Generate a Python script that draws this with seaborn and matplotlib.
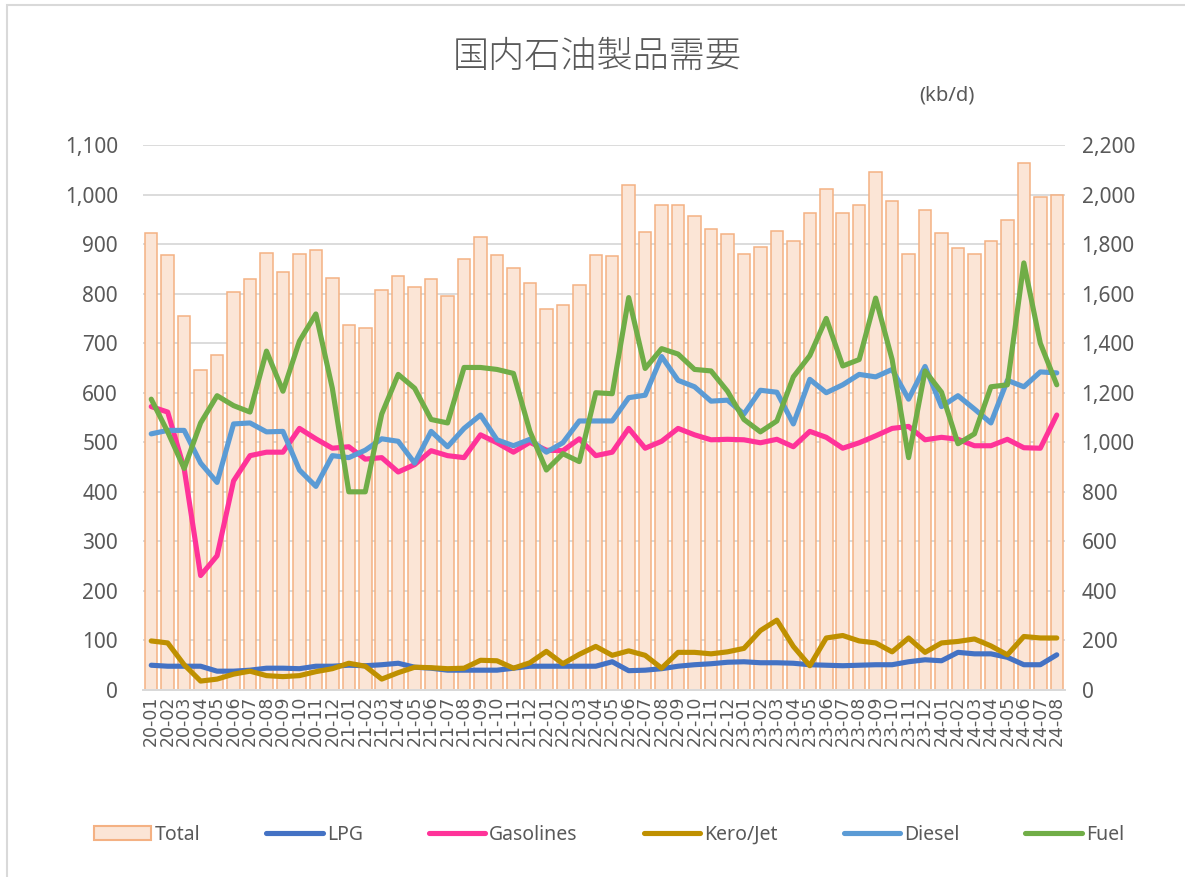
import numpy as np
import pandas as pd
import matplotlib.pyplot as plt
import seaborn as sns
from matplotlib.patches import Patch, Rectangle
from matplotlib.lines import Line2D

# ---- data (kb/d) ----
months = [f"{y:02d}-{m:02d}" for y in range(20, 25) for m in range(1, 13)][:56]

total = [1844, 1756, 1508, 1290, 1352, 1606, 1658, 1766, 1688, 1762, 1778, 1662,
         1474, 1462, 1616, 1672, 1626, 1658, 1592, 1740, 1828, 1756, 1704, 1644,
         1540, 1554, 1636, 1756, 1752, 2040, 1848, 1958, 1958, 1912, 1860, 1840,
         1762, 1790, 1854, 1814, 1926, 2022, 1926, 1958, 2092, 1974, 1758, 1936,
         1844, 1784, 1762, 1814, 1896, 2128, 1990, 1998]

lpg = [50, 48, 48, 48, 38, 38, 40, 44, 44, 43, 48, 48,
       50, 49, 51, 54, 46, 44, 40, 40, 40, 40, 44, 48,
       48, 48, 48, 48, 57, 39, 40, 43, 48, 51, 53, 56,
       57, 55, 55, 54, 51, 50, 49, 50, 51, 51, 57, 61,
       59, 76, 73, 73, 66, 51, 51, 71]

gasolines = [572, 561, 447, 231, 271, 422, 473, 480, 480, 528, 507, 488,
             491, 466, 469, 440, 455, 483, 473, 469, 515, 499, 480, 500,
             484, 483, 507, 473, 480, 528, 488, 502, 528, 515, 505, 506,
             505, 499, 506, 491, 522, 510, 488, 499, 513, 528, 532, 505,
             510, 506, 493, 493, 506, 489, 488, 555]

kero_jet = [99, 95, 51, 18, 22, 32, 38, 29, 27, 29, 37, 43,
            54, 48, 22, 35, 46, 45, 43, 44, 60, 59, 44, 55,
            78, 53, 72, 88, 70, 79, 70, 44, 76, 76, 73, 77,
            84, 120, 141, 88, 49, 105, 110, 99, 95, 77, 105, 76,
            95, 98, 103, 89, 71, 108, 105, 105]

diesel = [517, 524, 524, 458, 419, 537, 539, 521, 522, 444, 411, 473,
          469, 484, 507, 502, 458, 522, 491, 528, 555, 505, 493, 506,
          480, 499, 543, 543, 543, 590, 595, 673, 625, 612, 583, 585,
          557, 605, 601, 537, 627, 600, 616, 637, 632, 647, 587, 653,
          572, 594, 567, 539, 625, 612, 642, 640]

fuel = [587, 521, 447, 539, 594, 574, 561, 684, 603, 704, 759, 609,
        400, 400, 557, 637, 609, 546, 539, 651, 651, 647, 639, 522,
        444, 477, 461, 600, 598, 792, 649, 689, 678, 647, 644, 603,
        546, 521, 543, 632, 675, 750, 654, 667, 791, 667, 469, 644,
        601, 497, 517, 612, 616, 862, 700, 616]

series_names = ["LPG", "Gasolines", "Kero/Jet", "Diesel", "Fuel"]
series_values = [lpg, gasolines, kero_jet, diesel, fuel]
palette = {"LPG": "#4472C4", "Gasolines": "#FF3399", "Kero/Jet": "#BF9000",
           "Diesel": "#5B9BD5", "Fuel": "#70AD47"}

BAR_FACE = "#FBE5D6"
BAR_EDGE = "#F4B183"
TEXT = "#595959"
GRID = "#D9D9D9"

sns.set_theme(style="white")
plt.rcParams["font.family"] = ["Noto Sans", "Noto Sans CJK JP", "DejaVu Sans"]

lines_df = pd.DataFrame({
    "idx": np.tile(np.arange(len(months)), len(series_names)),
    "series": np.repeat(series_names, len(months)),
    "value": np.concatenate(series_values),
})

fig = plt.figure(figsize=(11.85, 8.77), dpi=100)
ax = fig.add_axes([143 / 1185, 1 - 690 / 877, (1065 - 143) / 1185, (690 - 145) / 877])

# bars: Total on the right-hand axis
sns.barplot(x=months, y=total, color=BAR_FACE, edgecolor=BAR_EDGE, linewidth=1.1,
            saturation=1, width=0.76, ax=ax)

ax2 = ax.twinx()
sns.lineplot(data=lines_df, x="idx", y="value", hue="series", palette=palette,
             hue_order=series_names, linewidth=3.7, legend=False, ax=ax2,
             solid_joinstyle="round", solid_capstyle="round")

# swap sides: bars axis on the right, lines axis on the left
ax.yaxis.tick_right()
ax2.yaxis.tick_left()

ax.set_ylim(0, 2200)
ax.set_yticks(np.arange(0, 2201, 200))
ax.set_yticklabels([f"{v:,}" for v in range(0, 2201, 200)])
ax2.set_ylim(0, 1100)
ax2.set_yticks(np.arange(0, 1101, 100))
ax2.set_yticklabels([f"{v:,}" for v in range(0, 1101, 100)])

ax.set_xlim(-0.5, len(months) - 0.5)
ax.set_xticks(np.arange(len(months)))
ax.set_xticklabels(months, rotation=90, fontsize=12.5, color=TEXT, family="DejaVu Sans")
ax.set_xticks(np.arange(-0.5, len(months), 1), minor=True)
ax.tick_params(axis="x", which="major", length=0, pad=4)
ax.tick_params(axis="x", which="minor", length=5, width=1.3, color=GRID)

ax.yaxis.grid(True, color=GRID, linewidth=1.3)
ax.xaxis.grid(False)
ax.set_axisbelow(True)

ax.tick_params(axis="y", length=0, pad=12, labelsize=15, labelcolor=TEXT)
ax2.tick_params(axis="y", length=0, pad=18, labelsize=15, labelcolor=TEXT)
ax.set_xlabel("")
ax.set_ylabel("")
ax2.set_xlabel("")
ax2.set_ylabel("")

for a in (ax, ax2):
    for side in ["top", "left", "right"]:
        a.spines[side].set_visible(False)
    a.spines["bottom"].set_color(GRID)
    a.spines["bottom"].set_linewidth(1.3)

fig.text(0.504, 1 - 57 / 877, "国内石油製品需要", ha="center", va="center",
         fontsize=26, fontweight="light", color=TEXT,
         family=["Noto Sans CJK JP", "DejaVu Sans"])
fig.text(947 / 1185, 1 - 95 / 877, "(kb/d)", ha="center", va="center",
         fontsize=14.5, color=TEXT)

handles = [Patch(facecolor=BAR_FACE, edgecolor=BAR_EDGE, linewidth=1.5, label="Total")]
for name in series_names:
    handles.append(Line2D([0], [0], color=palette[name], linewidth=3.7,
                          solid_capstyle="round", label=name))
fig.legend(handles=handles, loc="center", bbox_to_anchor=(0.514, 1 - 835 / 877),
           ncol=6, frameon=False, fontsize=14, labelcolor=TEXT,
           handlelength=2.9, handletextpad=0.2, columnspacing=3.4)

# outer chart-area border (top and left edges visible in the crop)
fig.patches.append(Rectangle((7 / 1185, -0.05), 1.2, 1.05 - 5 / 877,
                             transform=fig.transFigure, fill=False,
                             edgecolor=GRID, linewidth=1.5))

fig.savefig("out.png", dpi=100)
